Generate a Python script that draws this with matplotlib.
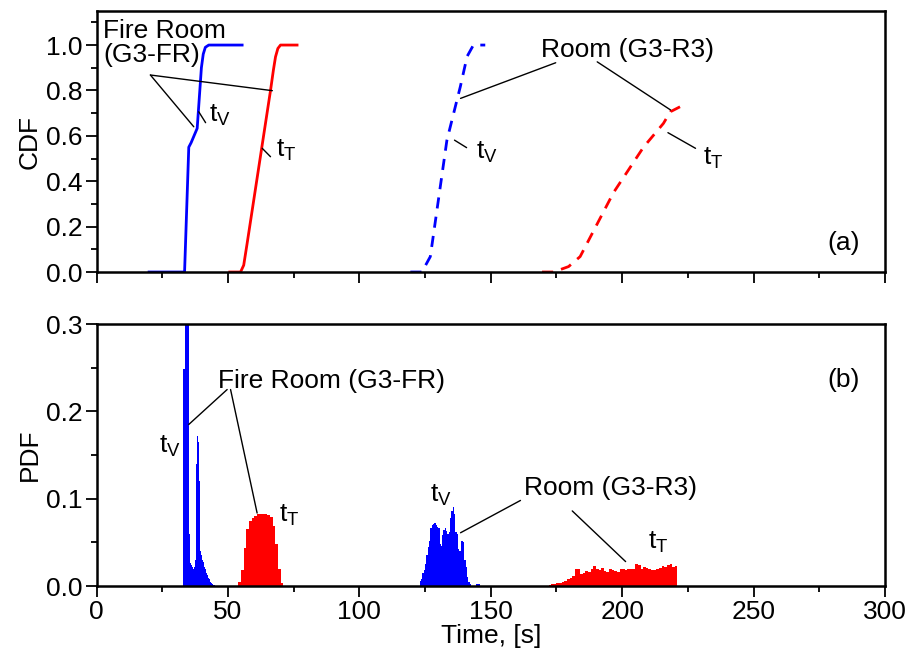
import numpy as np
import matplotlib
matplotlib.use("Agg")
import matplotlib.pyplot as plt
from matplotlib.ticker import MultipleLocator, FormatStrFormatter

plt.rcParams['font.family'] = ['Liberation Sans', 'DejaVu Sans']
plt.rcParams['mathtext.default'] = 'regular'

# CDF curves (time [s], probability)
t_fr_v = [20, 33.5, 35.1, 36.0, 38.3, 39.9, 40.6, 41.4, 42.7, 55.4]
cdf_fr_v = [0, 0, 0.55, 0.57, 0.633, 0.90, 0.96, 0.99, 1.0, 1.0]
t_fr_t = [50.7, 54.8, 56.0, 57.3, 66.2, 67.3, 68.1, 69.0, 70.0, 76.3]
cdf_fr_t = [0, 0, 0.03, 0.126, 0.80, 0.89, 0.948, 0.985, 1.0, 1.0]
t_r3_v = [119.4, 123.8, 127.0, 133.3, 138.4, 141.0, 143.4, 147.9]
cdf_r3_v = [0, 0, 0.068, 0.58, 0.816, 0.95, 1.0, 1.0]
t_r3_t = [169.5, 173.9, 179.6, 184.0, 196.7, 208.1, 215.7, 218.3, 222.0]
cdf_r3_t = [0, 0, 0.024, 0.068, 0.35, 0.55, 0.655, 0.706, 0.728]

# PDF histograms: first bin edge, bin width, heights
fr_v_start, fr_v_w = 32.75, 0.25
pdf_fr_v = [0.068, 0.248, 0.248, 0.248, 0.32, 0.32, 0.32, 0.32, 0.30, 0.145,
            0.06, 0.03, 0.026, 0.024, 0.025, 0.022, 0.020, 0.024, 0.022, 0.030,
            0.065, 0.14, 0.172, 0.172, 0.165, 0.12, 0.07, 0.040, 0.035, 0.032,
            0.030, 0.028, 0.025, 0.022, 0.020, 0.018, 0.015, 0.013, 0.011, 0.009,
            0.008, 0.006, 0.005, 0.004, 0.003, 0.002, 0.002, 0.001, 0.001]
fr_t_start, fr_t_w = 54.0, 1.0
pdf_fr_t = [0.005, 0.018, 0.043, 0.065, 0.075, 0.078, 0.080, 0.082, 0.083,
            0.083, 0.082, 0.081, 0.079, 0.069, 0.048, 0.019, 0.004]
r3_v_start, r3_v_w = 123.0, 0.5
pdf_r3_v = [0.006, 0.008, 0.015, 0.018, 0.025, 0.035, 0.045, 0.052, 0.066, 0.070,
            0.071, 0.072, 0.070, 0.068, 0.066, 0.048, 0.046, 0.058, 0.064, 0.066,
            0.063, 0.060, 0.062, 0.078, 0.086, 0.090, 0.082, 0.062, 0.060, 0.042,
            0.040, 0.052, 0.051, 0.050, 0.030, 0.022, 0.010, 0.005, 0.002, 0.0,
            0.0, 0.0, 0.0, 0.002, 0.002, 0.002]
r3_t_start, r3_t_w = 172.0, 1.0
pdf_r3_t = [0.001, 0.002, 0.002, 0.003, 0.004, 0.005, 0.006, 0.008, 0.009, 0.011,
            0.020, 0.020, 0.014, 0.015, 0.017, 0.016, 0.019, 0.023, 0.019, 0.018,
            0.021, 0.017, 0.016, 0.020, 0.018, 0.017, 0.016, 0.019, 0.020, 0.018,
            0.019, 0.020, 0.019, 0.025, 0.024, 0.020, 0.022, 0.021, 0.019, 0.018,
            0.018, 0.020, 0.021, 0.023, 0.022, 0.024, 0.025, 0.022, 0.023]

FS = 19
fig = plt.figure(figsize=(9.08, 6.55), dpi=100)
ax1 = fig.add_axes([0.1063, 0.5847, 0.8684, 0.3985])
ax2 = fig.add_axes([0.1063, 0.1053, 0.8684, 0.4000])

for ax in (ax1, ax2):
    ax.set_xlim(0, 300)
    ax.xaxis.set_major_locator(MultipleLocator(50))
    ax.xaxis.set_minor_locator(MultipleLocator(25))
    ax.tick_params(which='major', direction='out', length=8, width=1.3,
                   labelsize=FS, pad=2, top=False, right=False)
    ax.tick_params(which='minor', direction='out', length=4.5, width=1.3,
                   top=False, right=False)
    for s in ax.spines.values():
        s.set_linewidth(1.8)

# (a) cumulative distributions
ax1.plot(t_fr_v, cdf_fr_v, color='blue', lw=2)
ax1.plot(t_fr_t, cdf_fr_t, color='red', lw=2)
ax1.plot(t_r3_v, cdf_r3_v, color='blue', lw=2, dashes=(4, 3))
ax1.plot(t_r3_t, cdf_r3_t, color='red', lw=2, dashes=(4, 3))
ax1.set_ylim(0, 1.15)
ax1.yaxis.set_major_locator(MultipleLocator(0.2))
ax1.yaxis.set_minor_locator(MultipleLocator(0.1))
ax1.yaxis.set_major_formatter(FormatStrFormatter('%.1f'))
ax1.tick_params(labelbottom=False)
ax1.set_ylabel('CDF', fontsize=FS, labelpad=3)

line = dict(arrowstyle='-', lw=1, color='black', shrinkA=0, shrinkB=0)


def seg(ax, p0, p1):
    ax.annotate('', xy=p1, xytext=p0, arrowprops=line)


ax1.text(2.5, 1.115, 'Fire Room\n(G3-FR)', fontsize=FS, ha='left', va='top',
         linespacing=1.0)
seg(ax1, (20.5, 0.868), (37.0, 0.640))
seg(ax1, (20.5, 0.868), (66.9, 0.799))
seg(ax1, (38.9, 0.706), (41.5, 0.658))
ax1.text(42.7, 0.663, 't$_V$', fontsize=FS, va='baseline')
seg(ax1, (63.05, 0.545), (66.2, 0.508))
ax1.text(68.1, 0.508, 't$_T$', fontsize=FS, va='baseline')

ax1.text(169, 0.946, 'Room (G3-R3)', fontsize=FS, va='baseline')
seg(ax1, (174.7, 0.922), (138.5, 0.765))
seg(ax1, (190.5, 0.926), (218.4, 0.714))
seg(ax1, (136.2, 0.581), (140.8, 0.548))
ax1.text(144.2, 0.50, 't$_V$', fontsize=FS, va='baseline')
seg(ax1, (217.4, 0.614), (227.9, 0.545))
ax1.text(230.9, 0.471, 't$_T$', fontsize=FS, va='baseline')
ax1.text(284.4, 0.13, '(a)', fontsize=FS, ha='center', va='center')

# (b) probability densities
for start, w, h, c in [(fr_v_start, fr_v_w, pdf_fr_v, 'blue'),
                       (fr_t_start, fr_t_w, pdf_fr_t, 'red'),
                       (r3_v_start, r3_v_w, pdf_r3_v, 'blue'),
                       (r3_t_start, r3_t_w, pdf_r3_t, 'red')]:
    edges = start + w * np.arange(len(h))
    ax2.bar(edges, h, width=w, align='edge', color=c, linewidth=0)

ax2.set_ylim(0, 0.3)
ax2.yaxis.set_major_locator(MultipleLocator(0.1))
ax2.yaxis.set_minor_locator(MultipleLocator(0.05))
ax2.yaxis.set_major_formatter(FormatStrFormatter('%.1f'))
ax2.set_ylabel('PDF', fontsize=FS, labelpad=3)
ax2.set_xlabel('Time, [s]', fontsize=FS, labelpad=0)

ax2.text(46.3, 0.227, 'Fire Room (G3-FR)', fontsize=FS, va='baseline')
seg(ax2, (49.7, 0.225), (35.1, 0.185))
seg(ax2, (51.0, 0.225), (61.1, 0.0836))
ax2.text(23.6, 0.1525, 't$_V$', fontsize=FS, va='baseline')
ax2.text(69.3, 0.074, 't$_T$', fontsize=FS, va='baseline')

ax2.text(162.5, 0.1046, 'Room (G3-R3)', fontsize=FS, va='baseline')
seg(ax2, (161.3, 0.098), (138.5, 0.061))
seg(ax2, (181.0, 0.086), (201.3, 0.028))
ax2.text(126.7, 0.097, 't$_V$', fontsize=FS, va='baseline')
ax2.text(210.0, 0.043, 't$_T$', fontsize=FS, va='baseline')
ax2.text(284.4, 0.236, '(b)', fontsize=FS, ha='center', va='center')

fig.savefig('out.png', dpi=100)
